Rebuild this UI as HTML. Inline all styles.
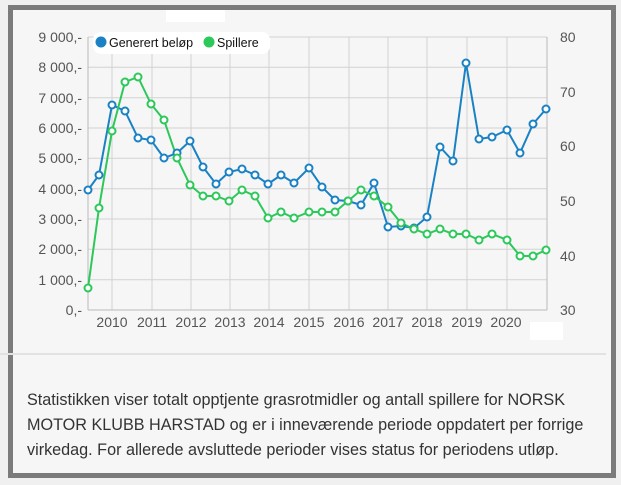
<!DOCTYPE html>
<html><head><meta charset="utf-8"><style>
body{margin:0;width:621px;height:485px;background:#f0f0f0;overflow:hidden;font-family:"Liberation Sans",sans-serif}
#frame{position:absolute;left:8px;top:5px;width:598px;height:463px;border:5px solid #7b7b7b;background:#f6f6f6}
#txt{position:absolute;left:27px;top:388px;font-size:16.2px;line-height:25px;color:#333;white-space:nowrap}
</style></head><body>
<div id="frame"></div>
<div style="position:absolute;left:0;top:353px;width:606px;height:2px;background:#e2e2e2"></div>
<div style="position:absolute;left:166px;top:10px;width:59px;height:12px;background:#fff"></div>
<div style="position:absolute;left:530px;top:322px;width:33px;height:18px;background:#fff"></div>
<svg style="position:absolute;left:0;top:0" width="621" height="485">
<g stroke="#d2d2d2" stroke-width="1">
<line x1="88" y1="37" x2="547" y2="37"/><line x1="88" y1="67.3" x2="547" y2="67.3"/><line x1="88" y1="97.7" x2="547" y2="97.7"/><line x1="88" y1="128" x2="547" y2="128"/><line x1="88" y1="158.3" x2="547" y2="158.3"/><line x1="88" y1="188.7" x2="547" y2="188.7"/><line x1="88" y1="219" x2="547" y2="219"/><line x1="88" y1="249.3" x2="547" y2="249.3"/><line x1="88" y1="279.7" x2="547" y2="279.7"/>
<line x1="112" y1="37" x2="112" y2="310"/><line x1="152" y1="37" x2="152" y2="310"/><line x1="191" y1="37" x2="191" y2="310"/><line x1="230" y1="37" x2="230" y2="310"/><line x1="269" y1="37" x2="269" y2="310"/><line x1="309" y1="37" x2="309" y2="310"/><line x1="349" y1="37" x2="349" y2="310"/><line x1="388" y1="37" x2="388" y2="310"/><line x1="427" y1="37" x2="427" y2="310"/><line x1="467" y1="37" x2="467" y2="310"/><line x1="507" y1="37" x2="507" y2="310"/>
</g>
<line x1="88" y1="37" x2="88" y2="310" stroke="#bbb"/><line x1="88" y1="310" x2="547" y2="310" stroke="#bbb"/><line x1="547" y1="37" x2="547" y2="310" stroke="#bbb"/>
<g font-size="14" fill="#555" text-anchor="end">
<text x="82" y="42">9 000,-</text><text x="82" y="72">8 000,-</text><text x="82" y="103">7 000,-</text><text x="82" y="133">6 000,-</text><text x="82" y="163">5 000,-</text><text x="82" y="194">4 000,-</text><text x="82" y="224">3 000,-</text><text x="82" y="254">2 000,-</text><text x="82" y="285">1 000,-</text><text x="82" y="315">0,-</text>
</g>
<g font-size="14" fill="#555">
<text x="560" y="42">80</text><text x="560" y="97">70</text><text x="560" y="151">60</text><text x="560" y="206">50</text><text x="560" y="261">40</text><text x="560" y="315">30</text>
</g>
<g font-size="14" fill="#555" text-anchor="middle">
<text x="112" y="327">2010</text><text x="152" y="327">2011</text><text x="191" y="327">2012</text><text x="230" y="327">2013</text><text x="269" y="327">2014</text><text x="309" y="327">2015</text><text x="349" y="327">2016</text><text x="388" y="327">2017</text><text x="427" y="327">2018</text><text x="467" y="327">2019</text><text x="506" y="327">2020</text>
</g>
<rect x="93" y="32" width="177" height="22" rx="8" fill="#fff"/>
<circle cx="101" cy="42" r="5.5" fill="#1a82c4"/><text x="109" y="47" font-size="12.5" fill="#111">Generert beløp</text>
<circle cx="209" cy="42" r="5.5" fill="#2dc85a"/><text x="217" y="47" font-size="12.5" fill="#111">Spillere</text>
<polyline fill="none" stroke="#1a82c4" stroke-width="2" points="88,190 99,175 112,105 125,111 138,138 151,140 164,158 177,153 190,141 203,167 216,184 229,172 242,169 255,175 268,184 281,175 294,183 309,168 322,187 335,200 348,201 361,205 374,183 388,227 401,226 414,228 427,217 440,147 453,161 466,63 479,139 492,137 507,130 520,153 533,124 546,109"/>
<polyline fill="none" stroke="#2dc85a" stroke-width="2" points="88,288 99,208 112,131 125,82 138,77 151,104 164,120 177,158 190,185 203,196 216,196 229,201 242,190 255,196 268,218 281,212 294,218 309,212 322,212 335,212 348,201 361,190 374,196 388,207 401,223 414,229 427,234 440,229 453,234 466,234 479,240 492,234 507,240 520,256 533,256 546,250"/>
<g fill="#fff" stroke="#1a82c4" stroke-width="2">
<circle cx="88" cy="190" r="3.5"/><circle cx="99" cy="175" r="3.5"/><circle cx="112" cy="105" r="3.5"/><circle cx="125" cy="111" r="3.5"/><circle cx="138" cy="138" r="3.5"/><circle cx="151" cy="140" r="3.5"/><circle cx="164" cy="158" r="3.5"/><circle cx="177" cy="153" r="3.5"/><circle cx="190" cy="141" r="3.5"/><circle cx="203" cy="167" r="3.5"/><circle cx="216" cy="184" r="3.5"/><circle cx="229" cy="172" r="3.5"/><circle cx="242" cy="169" r="3.5"/><circle cx="255" cy="175" r="3.5"/><circle cx="268" cy="184" r="3.5"/><circle cx="281" cy="175" r="3.5"/><circle cx="294" cy="183" r="3.5"/><circle cx="309" cy="168" r="3.5"/><circle cx="322" cy="187" r="3.5"/><circle cx="335" cy="200" r="3.5"/><circle cx="348" cy="201" r="3.5"/><circle cx="361" cy="205" r="3.5"/><circle cx="374" cy="183" r="3.5"/><circle cx="388" cy="227" r="3.5"/><circle cx="401" cy="226" r="3.5"/><circle cx="414" cy="228" r="3.5"/><circle cx="427" cy="217" r="3.5"/><circle cx="440" cy="147" r="3.5"/><circle cx="453" cy="161" r="3.5"/><circle cx="466" cy="63" r="3.5"/><circle cx="479" cy="139" r="3.5"/><circle cx="492" cy="137" r="3.5"/><circle cx="507" cy="130" r="3.5"/><circle cx="520" cy="153" r="3.5"/><circle cx="533" cy="124" r="3.5"/><circle cx="546" cy="109" r="3.5"/>
</g>
<g fill="#fff" stroke="#2dc85a" stroke-width="2">
<circle cx="88" cy="288" r="3.5"/><circle cx="99" cy="208" r="3.5"/><circle cx="112" cy="131" r="3.5"/><circle cx="125" cy="82" r="3.5"/><circle cx="138" cy="77" r="3.5"/><circle cx="151" cy="104" r="3.5"/><circle cx="164" cy="120" r="3.5"/><circle cx="177" cy="158" r="3.5"/><circle cx="190" cy="185" r="3.5"/><circle cx="203" cy="196" r="3.5"/><circle cx="216" cy="196" r="3.5"/><circle cx="229" cy="201" r="3.5"/><circle cx="242" cy="190" r="3.5"/><circle cx="255" cy="196" r="3.5"/><circle cx="268" cy="218" r="3.5"/><circle cx="281" cy="212" r="3.5"/><circle cx="294" cy="218" r="3.5"/><circle cx="309" cy="212" r="3.5"/><circle cx="322" cy="212" r="3.5"/><circle cx="335" cy="212" r="3.5"/><circle cx="348" cy="201" r="3.5"/><circle cx="361" cy="190" r="3.5"/><circle cx="374" cy="196" r="3.5"/><circle cx="388" cy="207" r="3.5"/><circle cx="401" cy="223" r="3.5"/><circle cx="414" cy="229" r="3.5"/><circle cx="427" cy="234" r="3.5"/><circle cx="440" cy="229" r="3.5"/><circle cx="453" cy="234" r="3.5"/><circle cx="466" cy="234" r="3.5"/><circle cx="479" cy="240" r="3.5"/><circle cx="492" cy="234" r="3.5"/><circle cx="507" cy="240" r="3.5"/><circle cx="520" cy="256" r="3.5"/><circle cx="533" cy="256" r="3.5"/><circle cx="546" cy="250" r="3.5"/>
</g>
</svg>
<div id="txt">Statistikken viser totalt opptjente grasrotmidler og antall spillere for NORSK<br>MOTOR KLUBB HARSTAD og er i inneværende periode oppdatert per forrige<br>virkedag. For allerede avsluttede perioder vises status for periodens utløp.</div>
</body></html>
